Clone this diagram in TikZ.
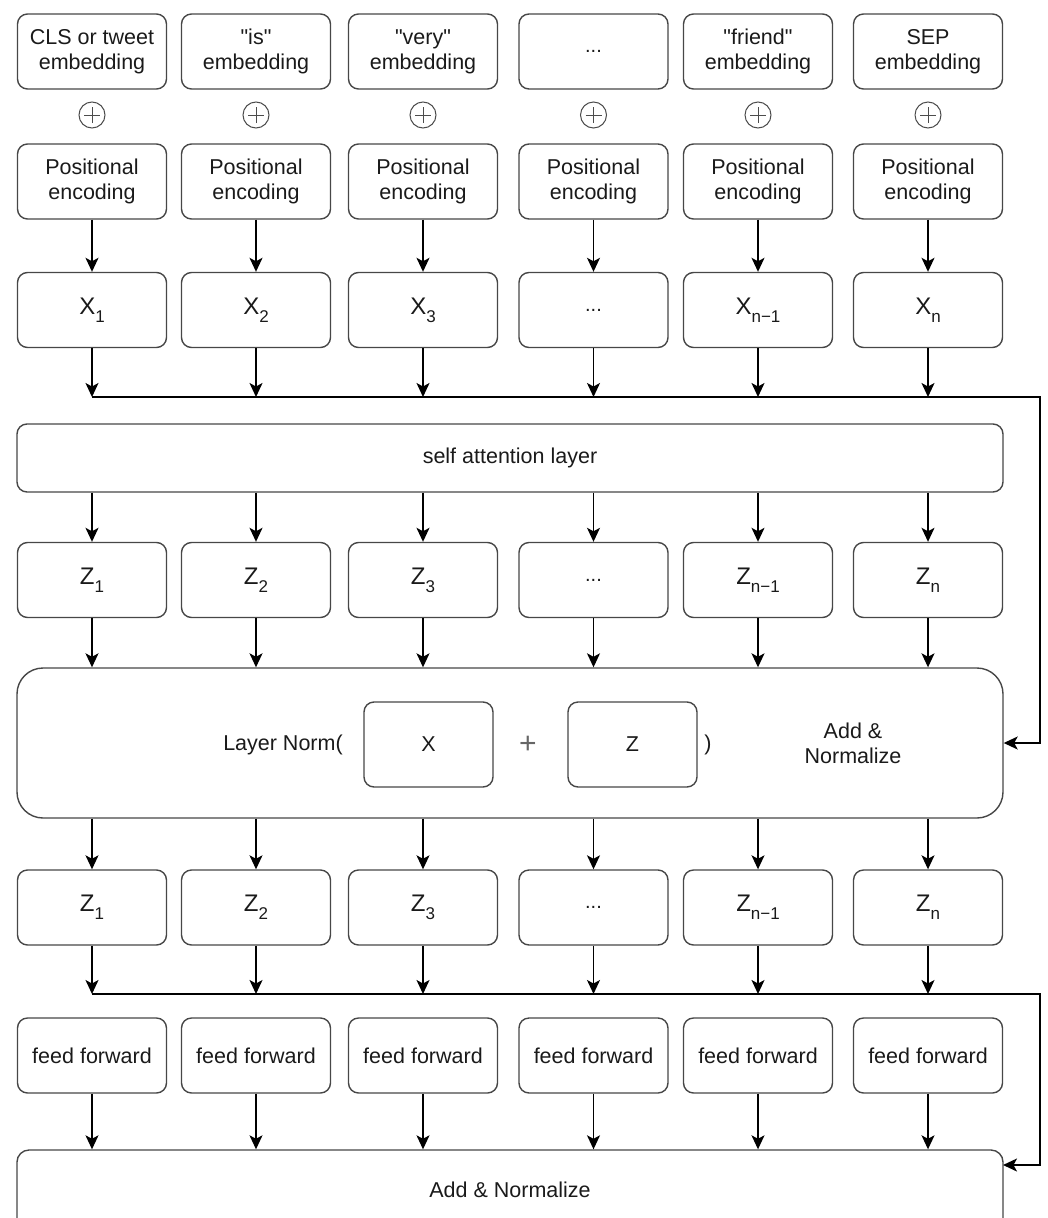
\documentclass[tikz,border=0pt]{standalone}
\usepackage{fontspec}
\setmainfont{Liberation Sans}
\usetikzlibrary{arrows.meta}
\definecolor{boxgray}{HTML}{474747}
\definecolor{txt}{HTML}{1A1A1A}
\newcommand{\subx}[1]{\raisebox{-0.32em}{\fontsize{17}{17}\selectfont #1}}
\newcommand{\dotsx}{{\fontsize{20}{20}\selectfont ...}}
\newcommand{\qq}{\textquotedbl}
\begin{document}
\begin{tikzpicture}[x=1pt,y=-1pt,
  box/.style={draw=boxgray, line width=1.4pt, rounded corners=10pt, minimum width=149pt,
    minimum height=75pt, inner sep=0pt, align=center, text=txt,
    font=\fontsize{21.5}{25}\selectfont},
  varbox/.style={box, font=\fontsize{24}{24}\selectfont},
  wide/.style={draw=boxgray, line width=1.4pt, minimum width=986pt, inner sep=0pt,
    align=center, text=txt, font=\fontsize{21.5}{25}\selectfont},
  conn/.style={line width=1.5pt, draw=black},
  arr/.style={conn, -{Stealth[length=14pt,width=13pt,inset=3.5pt]}},
  oplus/.style={circle, draw=black!70, line width=1pt, minimum size=26pt, inner sep=0pt},
  lbl/.style={text=txt, font=\fontsize{21.5}{25}\selectfont, align=center, inner sep=0pt}]

\clip (0,0) rectangle (1048,1218);
\useasboundingbox (0,0) rectangle (1048,1218);

% token embeddings
\foreach \i/\cx/\lab in {1/92/{CLS or tweet\\embedding}, 2/256/{\qq is\qq\\embedding},
    3/423/{\qq very\qq\\embedding}, 4/593.5/{\dotsx}, 5/758/{\qq friend\qq\\embedding},
    6/928/{SEP\\embedding}}{
  \node[box] (e\i) at (\cx,51.5) {\lab};
  \node[oplus] (c\i) at (\cx,115) {};
  \draw[black!70, line width=1pt] ([xshift=-8pt]c\i.center) -- ([xshift=8pt]c\i.center);
  \draw[black!70, line width=1pt] ([yshift=-8pt]c\i.center) -- ([yshift=8pt]c\i.center);
  \node[box] (p\i) at (\cx,181.5) {Positional\\encoding};
  \node[box] (f\i) at (\cx,1055.5) {feed forward};
  \coordinate (ha\i) at (\cx,397);
  \coordinate (hb\i) at (\cx,994);
}

% x row
\foreach \i/\cx/\lab in {1/92/{X\subx{1}}, 2/256/{X\subx{2}}, 3/423/{X\subx{3}},
    4/593.5/{\dotsx}, 5/758/{X\subx{n−1}}, 6/928/{X\subx{n}}}{
  \node[varbox] (x\i) at (\cx,310) {\lab};
}
% z rows
\foreach \i/\cx/\lab in {1/92/{Z\subx{1}}, 2/256/{Z\subx{2}}, 3/423/{Z\subx{3}},
    4/593.5/{\dotsx}, 5/758/{Z\subx{n−1}}, 6/928/{Z\subx{n}}}{
  \node[varbox] (z\i) at (\cx,580) {\lab};
  \node[varbox] (y\i) at (\cx,907.5) {\lab};
}

% wide blocks
\node[wide, rounded corners=10pt, minimum height=68pt] (sa) at (510,458) {self attention layer};
\node[wide, rounded corners=26pt, minimum height=150pt] (ln) at (510,743) {};
\node[wide, rounded corners=12pt, minimum height=80pt] (an) at (510,1190) {Add \& Normalize};

% inside layer norm
\node[lbl] (lnt) at (283,745) {Layer Norm(};
\node[box, minimum width=129pt, minimum height=85pt] (bx) at (428.5,744.5) {X};
\node[text=black!60, font=\fontsize{30}{30}\selectfont, inner sep=0pt] (pl) at (528,745) {+};
\node[box, minimum width=129pt, minimum height=85pt] (bz) at (632.5,744.5) {Z};
\node[lbl] (rp) at (708,745) {)};
\node[lbl] (lna) at (853,743) {Add \&\\Normalize};

% connectors
\foreach \i in {1,...,6}{
  \draw[arr] (p\i) -- (x\i);
  \draw[arr] (x\i) -- (ha\i);
  \draw[arr] (sa.south -| z\i) -- (z\i);
  \draw[arr] (z\i) -- (z\i |- ln.north);
  \draw[arr] (ln.south -| y\i) -- (y\i);
  \draw[arr] (y\i) -- (hb\i);
  \draw[arr] (f\i) -- (f\i |- an.north);
}
\coordinate (ra) at (1040,397);
\coordinate (rb) at (1040,994);
\coordinate (rbe) at (1040,1165);
\coordinate (ane) at (1003,1165);
\draw[arr] (ha1) -- (ra) -- (ra |- ln.east) -- (ln.east);
\draw[arr] (hb1) -- (rb) -- (rbe) -- (ane);
\end{tikzpicture}
\end{document}
